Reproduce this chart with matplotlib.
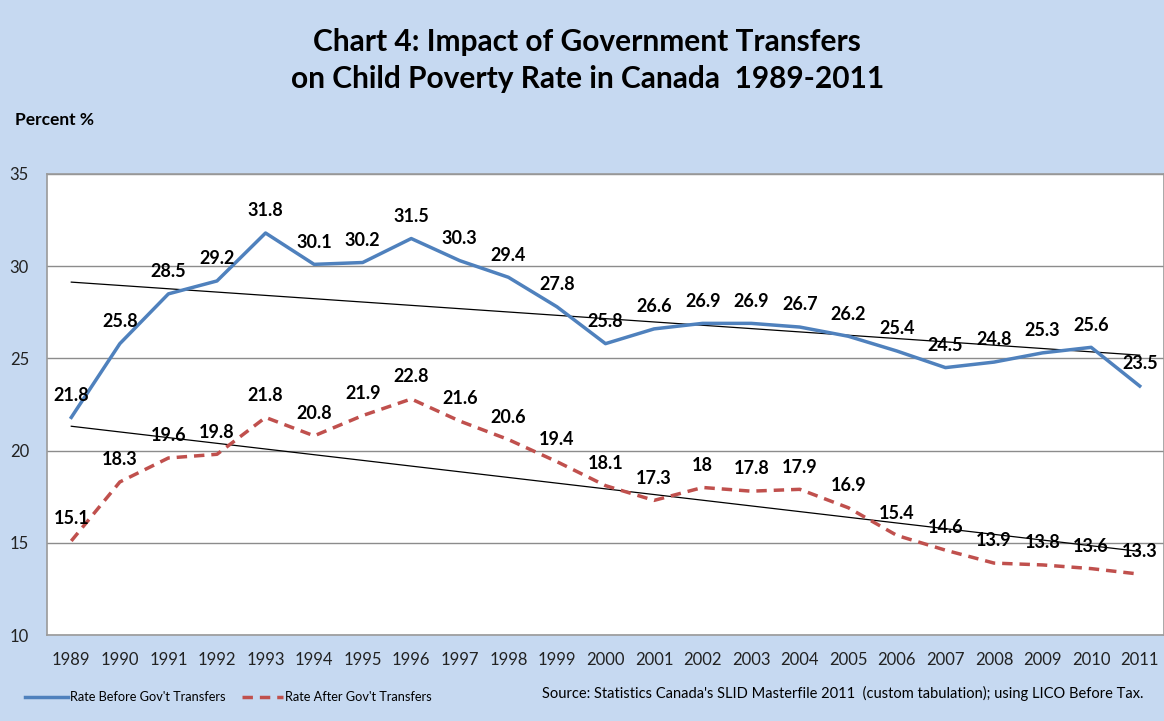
import numpy as np
import matplotlib
matplotlib.use("Agg")
import matplotlib.pyplot as plt
from matplotlib.lines import Line2D

plt.rcParams['font.family'] = ['Lato', 'DejaVu Sans']

years = [str(y) for y in range(1989, 2012)]
before = [21.8, 25.8, 28.5, 29.2, 31.8, 30.1, 30.2, 31.5, 30.3, 29.4, 27.8, 25.8,
          26.6, 26.9, 26.9, 26.7, 26.2, 25.4, 24.5, 24.8, 25.3, 25.6, 23.5]
after = [15.1, 18.3, 19.6, 19.8, 21.8, 20.8, 21.9, 22.8, 21.6, 20.6, 19.4, 18.1,
         17.3, 18, 17.8, 17.9, 16.9, 15.4, 14.6, 13.9, 13.8, 13.6, 13.3]
before_label = "Rate Before Gov't Transfers"
after_label = "Rate After Gov't Transfers"
yticks = [10, 15, 20, 25, 30, 35]

bg = "#C6D9F1"
blue = "#4F81BD"
red = "#C0504D"


def fmt(v):
    # excel style: drop trailing .0
    return f"{v:g}"


fig = plt.figure(figsize=(11.64, 7.21), dpi=100, facecolor=bg)
ax = fig.add_axes([47 / 1164, 86 / 721, 1117 / 1164, 461 / 721])
ax.set_facecolor("white")

x = np.arange(len(years))

ax.plot(x, before, color=blue, lw=2.5, solid_joinstyle="round", zorder=3)
ax.plot(x, after, color=red, lw=2.5, linestyle=(0, (3.0, 2.0)), zorder=3)

# linear trendlines
for vals in (before, after):
    k, b = np.polyfit(x, vals, 1)
    ax.plot(x, k * x + b, color="black", lw=0.9, zorder=2)

for xi, v in zip(x, before):
    ax.annotate(fmt(v), (xi, v), xytext=(0, 16), textcoords="offset points",
                ha="center", va="center", fontsize=13, fontweight="bold", zorder=4)
for xi, v in zip(x, after):
    ax.annotate(fmt(v), (xi, v), xytext=(0, 16), textcoords="offset points",
                ha="center", va="center", fontsize=13, fontweight="bold", zorder=4)

ax.set_xlim(-0.5, len(years) - 0.5)
ax.set_ylim(10, 35)
ax.set_yticks(yticks)
ax.set_xticks(x)
ax.set_xticklabels(years)
ax.tick_params(axis="both", length=0, labelsize=12, colors="#222222")
ax.tick_params(axis="y", pad=13)
ax.tick_params(axis="x", pad=12)
ax.grid(axis="y", color="#8c8c8c", lw=1)
ax.set_axisbelow(True)
for s in ax.spines.values():
    s.set_color("#9a9a9a")
    s.set_linewidth(1.2)

fig.text(0.5045, 1 - 42 / 721, "Chart 4: Impact of Government Transfers", ha="center",
         va="center", fontsize=21.5, fontweight="bold")
fig.text(0.5045, 1 - 79 / 721, "on Child Poverty Rate in Canada  1989-2011", ha="center",
         va="center", fontsize=21.5, fontweight="bold")
fig.text(15 / 1164, 1 - 120 / 721, "Percent %", ha="left", va="center",
         fontsize=12.5, fontweight="bold")

# legend drawn by hand at the bottom left
fig.add_artist(Line2D([25 / 1164, 68 / 1164], [1 - 697 / 721] * 2, color=blue, lw=2.5))
fig.text(70 / 1164, 1 - 697 / 721, before_label, ha="left", va="center", fontsize=9.2)
fig.add_artist(Line2D([242 / 1164, 283 / 1164], [1 - 697 / 721] * 2, color=red, lw=2.5,
                      linestyle=(0, (3.0, 2.0))))
fig.text(285 / 1164, 1 - 697 / 721, after_label, ha="left", va="center", fontsize=9.2)

fig.text(1143 / 1164, 1 - 693 / 721,
         "Source: Statistics Canada's SLID Masterfile 2011  (custom tabulation); using LICO Before Tax.",
         ha="right", va="center", fontsize=10.5)

fig.savefig("out.png", dpi=100, facecolor=bg)
